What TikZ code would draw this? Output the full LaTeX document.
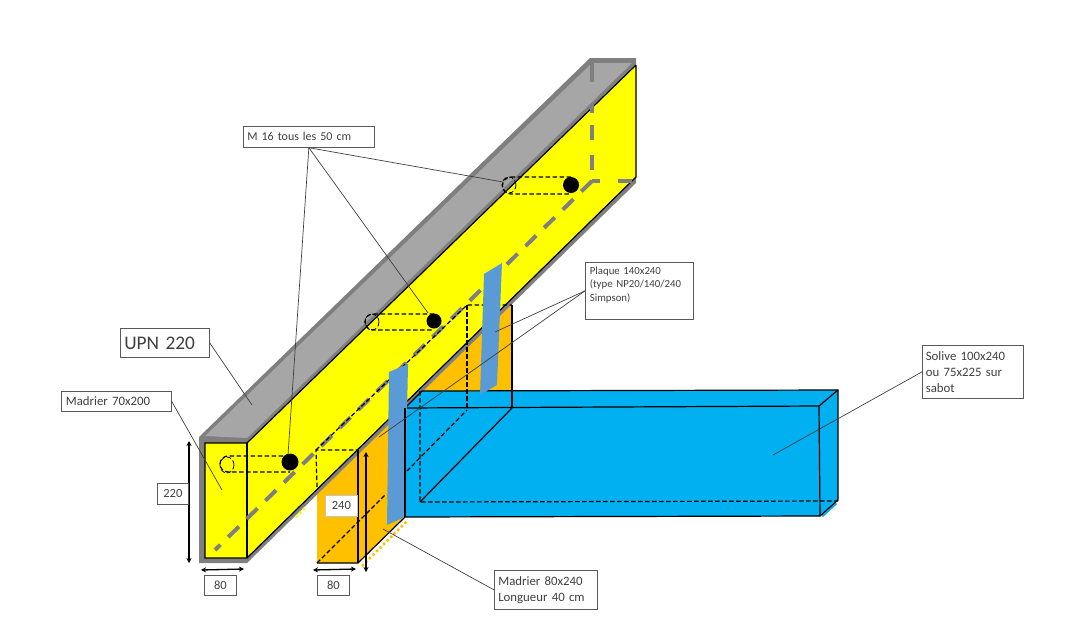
\documentclass[tikz,border=0pt]{standalone}
\usepackage{fontspec}
\setmainfont{Carlito}
\usepackage{xcolor}
\usetikzlibrary{positioning}
\usetikzlibrary{arrows.meta}
\definecolor{upnlight}{HTML}{A6A6A6}
\definecolor{upndark}{HTML}{7F7F7F}
\definecolor{madrier}{HTML}{FFFF00}
\definecolor{bloc}{HTML}{FFC000}
\definecolor{solive}{HTML}{00B0F0}
\definecolor{plaque}{HTML}{5B9BD5}
\definecolor{boxline}{HTML}{595959}
\tikzset{
  labelbox/.style={draw=boxline, line width=.7pt, fill=white, anchor=north west, align=left, inner xsep=4pt, inner ysep=0pt, font=\fontsize{12.8}{16}\selectfont, text=black!75},
  dimbox/.style={labelbox, inner sep=0pt, align=center, font=\fontsize{12.5}{16}\selectfont},
  leader/.style={draw=black!75, line width=.7pt},
  edge/.style={draw=black, line width=1.2pt},
  hidden/.style={draw=black, line width=1.2pt, dash pattern=on 4.5pt off 2.5pt},
  axis/.style={draw=upndark, line width=4pt, dash pattern=on 15pt off 11pt},
  dimline/.style={draw=black, line width=1.3pt, {Stealth[length=5pt,width=5pt]}-{Stealth[length=5pt,width=5pt]}},
  bolt/.style={circle, fill=black, inner sep=0pt, minimum size=16pt}
}
\begin{document}
\begin{tikzpicture}[x=1pt, y=-1pt]
\useasboundingbox (0,0) rectangle (1084,640);
% block under the beam
\fill[bloc] (317,450) -- (512,305) -- (512,410) -- (358,563) -- (317,563) -- cycle;
\draw[bloc, line width=2.5pt, dash pattern=on 2.5pt off 2.5pt] (362,566) -- (408,520);
% beam
\fill[upndark] (199,437) -- (590,58) -- (636,58) -- (636,183) -- (247,563) -- (199,563) -- cycle;
\fill[upnlight] (205,436) -- (592,63) -- (632,63) -- (247,438) -- cycle;
\fill[madrier] (205,443) -- (247,443) -- (636,65) -- (636,177) -- (247,558) -- (205,558) -- cycle;
\draw[madrier, line width=2.5pt, dash pattern=on 2.5pt off 2.5pt] (296,517) -- (306,507);
\draw[edge] (636,65) -- (247,443) -- (205,443) -- (205,558) -- (247,558) -- (636,177) -- (636,65);
\draw[edge] (247,443) -- (247,558);
% hidden axis of the beam
\draw[axis, dash pattern=on 19pt off 22pt on 9pt off 12pt on 15pt off 15pt on 15pt off 10pt] (592,63) -- (592,181);
\draw[axis, dash pattern=on 8pt off 18pt on 14pt off 100pt] (592,181) -- (634,181);
\draw[axis] (592,181) -- (215,550);
% slots and bolts
\draw[hidden] (290,456) -- (228,456) arc (270:90:8) -- (290,472);
\draw[hidden] (434,314) -- (373,314) arc (270:90:8) -- (434,330);
\draw[hidden] (571,177) -- (511,177) arc (270:90:8.5) -- (571,194);
\draw[hidden, line width=.8pt] (227,465) ellipse (7 and 8);
\draw[hidden, line width=.8pt] (372,322) ellipse (7 and 8);
\draw[hidden, line width=.8pt] (509,185) ellipse (7 and 8);
\node[bolt, minimum size=17pt] (boltA) at (290,462) {};
\node[bolt, minimum size=15pt] (boltB) at (434,321) {};
\node[bolt] (boltC) at (571,185) {};
% joist
\fill[solive] (405,408) -- (422,391) -- (838,390) -- (838,500) -- (820,516) -- (405,517) -- cycle;
\draw[solive, line width=3pt] (822,516) -- (836,503);
\draw[edge] (405,408) -- (422,391) -- (838,390) -- (838,500) -- (820,516) -- (405,517) -- cycle;
\draw[edge] (405,408) -- (819,406) -- (820,516);
\draw[edge] (819,406) -- (838,390);
\draw[hidden] (420,391) -- (420,502) -- (838,501);
\draw[edge] (420,502) -- (512,408);
% block, visible edges and hidden ones
\draw[edge] (317,563) -- (358,563) -- (405,517);
\draw[edge] (358,450) -- (358,563);
\draw[edge] (512,305) -- (512,408);
\draw[hidden] (317,487) -- (316,450) -- (358,450);
\draw[hidden] (316,450) -- (467,305) -- (512,305);
\draw[hidden] (467,305) -- (467,408);
\draw[hidden] (317,563) -- (385,495);
\draw[hidden] (407,471) -- (467,410);
% plates
\fill[plaque] (389,372) -- (408,364) -- (405,517) -- (387,525) -- cycle;
\fill[plaque] (484,274) -- (502,263) -- (497,385) -- (480,395) -- cycle;
\draw[edge] (405,408) -- (405,517);
% dimension arrows
\coordinate (dimAtop) at (189,441);
\coordinate (dimAbot) at (189,563);
\coordinate (dimBl) at (201,570);
\coordinate (dimBr) at (244,569);
\coordinate (dimCtop) at (366,452);
\coordinate (dimCbot) at (366,572);
\coordinate (dimDl) at (313,570);
\coordinate (dimDr) at (356,569);
\draw[dimline] (dimAtop) -- (dimAbot);
\draw[dimline] (dimBl) -- (dimBr);
\draw[dimline] (dimCtop) -- (dimCbot);
\draw[dimline] (dimDl) -- (dimDr);
% dimension labels
\node[dimbox, minimum width=31pt, minimum height=21pt] (dimA) at (157,483) {220};
\node[dimbox, minimum width=32pt, minimum height=20pt] (dimB) at (204,575) {80};
\node[dimbox, draw=boxline!35, minimum width=32pt, minimum height=21pt] (dimC) at (325,495) {240};
\node[dimbox, minimum width=32pt, minimum height=20pt] (dimD) at (317,575) {80};
% text boxes
\node[labelbox, text width=81pt, minimum height=29pt, font=\fontsize{19.3}{24}\selectfont] (upn) at (120,328) {UPN 220};
\node[labelbox, text width=101pt, minimum height=20pt, inner xsep=4.5pt] (madA) at (61,391) {Madrier 70x200};
\node[labelbox, text width=123pt, minimum height=21pt, font=\fontsize{12}{16}\selectfont] (mseize) at (243,126) {M 16 tous les 50 cm};
\node[labelbox, text width=99pt, minimum height=57pt, inner xsep=4.5pt, font=\fontsize{10.8}{13.5}\selectfont] (plq) at (585,262) {Plaque 140x240\\(type NP20/140/240\\Simpson)\\\mbox{}};
\node[labelbox, text width=95pt, minimum height=39pt] (madB) at (494,570) {Madrier 80x240\\Longueur 40 cm};
\node[labelbox, text width=94pt, minimum height=53pt, inner xsep=3.5pt] (sol) at (922,345) {Solive 100x240\\ou 75x225 sur\\sabot};
% leader ends
\coordinate (upnEnd) at (252,405);
\coordinate (madAEnd) at (222,490);
\coordinate (boltAEnd) at (288,455);
\coordinate (boltBEnd) at (428,313);
\coordinate (boltCEnd) at (503,182);
\coordinate (plqAEnd) at (495,332);
\coordinate (plqBEnd) at (379,437);
\coordinate (madBEnd) at (383,529);
\coordinate (solEnd) at (773,455);
% leaders
\draw[leader] (upn.east) -- (upnEnd);
\draw[leader] (madA.east) -- (madAEnd);
\draw[leader] (mseize.south) -- (boltAEnd);
\draw[leader] (mseize.south) -- (boltBEnd);
\draw[leader] (mseize.south) -- (boltCEnd);
\draw[leader] (plq.west) -- (plqAEnd);
\draw[leader] (plq.west) -- (plqBEnd);
\draw[leader] (madB.west) -- (madBEnd);
\draw[leader] (sol.west) -- (solEnd);
\end{tikzpicture}
\end{document}
